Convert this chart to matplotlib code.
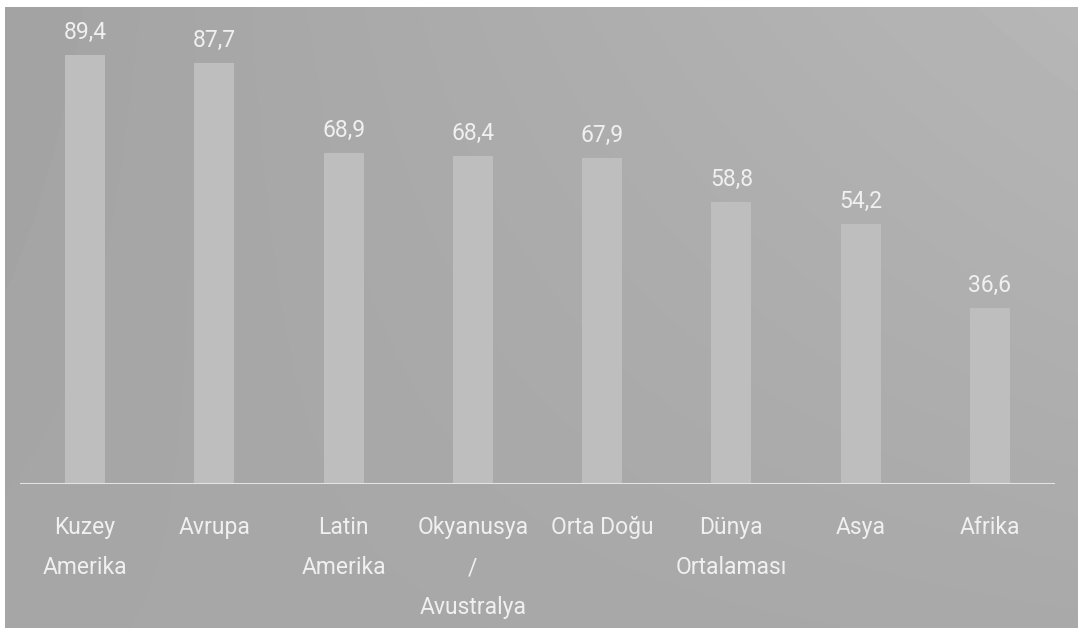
import numpy as np
import matplotlib.pyplot as plt

regions = ["Kuzey\nAmerika", "Avrupa", "Latin\nAmerika", "Okyanusya\n/\nAvustralya",
           "Orta Doğu", "Dünya\nOrtalaması", "Asya", "Afrika"]
values = [89.4, 87.7, 68.9, 68.4, 67.9, 58.8, 54.2, 36.6]
value_labels = ["89,4", "87,7", "68,9", "68,4", "67,9", "58,8", "54,2", "36,6"]

W, H, DPI = 1078, 628, 100
fig = plt.figure(figsize=(W / DPI, H / DPI), dpi=DPI, facecolor="white")

# grey backdrop, slightly lighter towards the upper right
bg = fig.add_axes([5 / W, 0, 1 - 5 / W, (H - 7) / H])
gx = np.linspace(0, 1, 200)
gy = np.linspace(0, 1, 120)
X, Y = np.meshgrid(gx, gy)
shade = 163 + 19 * X * (1 - Y) + 6 * X * Y + 3 * (1 - X) * Y
bg.imshow(shade, cmap="gray", vmin=0, vmax=255, aspect="auto",
          extent=[0, 1, 0, 1], interpolation="bilinear")
bg.axis("off")

ax = fig.add_axes([20.4 / W, 144 / H, 1034.2 / W, 477 / H])
ax.patch.set_alpha(0)
x = np.arange(len(values))
ax.bar(x, values, width=0.31, color="#bebebe", zorder=2)
ax.set_xlim(-0.5, len(values) - 0.5)
ax.set_ylim(0, 477 / 4.8)
ax.axhline(0, color="#e4e4e4", lw=2.2, zorder=3)
ax.axis("off")

txt = dict(color="#f0f0f0", fontsize=16.5, family=["Roboto", "DejaVu Sans"],
           weight="normal", ha="center", va="baseline")
for xi, v, lab in zip(x, values, value_labels):
    ax.annotate(lab, (xi, v), xytext=(0, 11.5), textcoords="offset points", **txt)

for xi, name in zip(x, regions):
    for k, line in enumerate(name.split("\n")):
        ax.annotate(line, (xi, 0), xytext=(0, -36 - 28.8 * k),
                    textcoords="offset points", annotation_clip=False, **txt)

fig.savefig("out.png", dpi=DPI, facecolor="white")
